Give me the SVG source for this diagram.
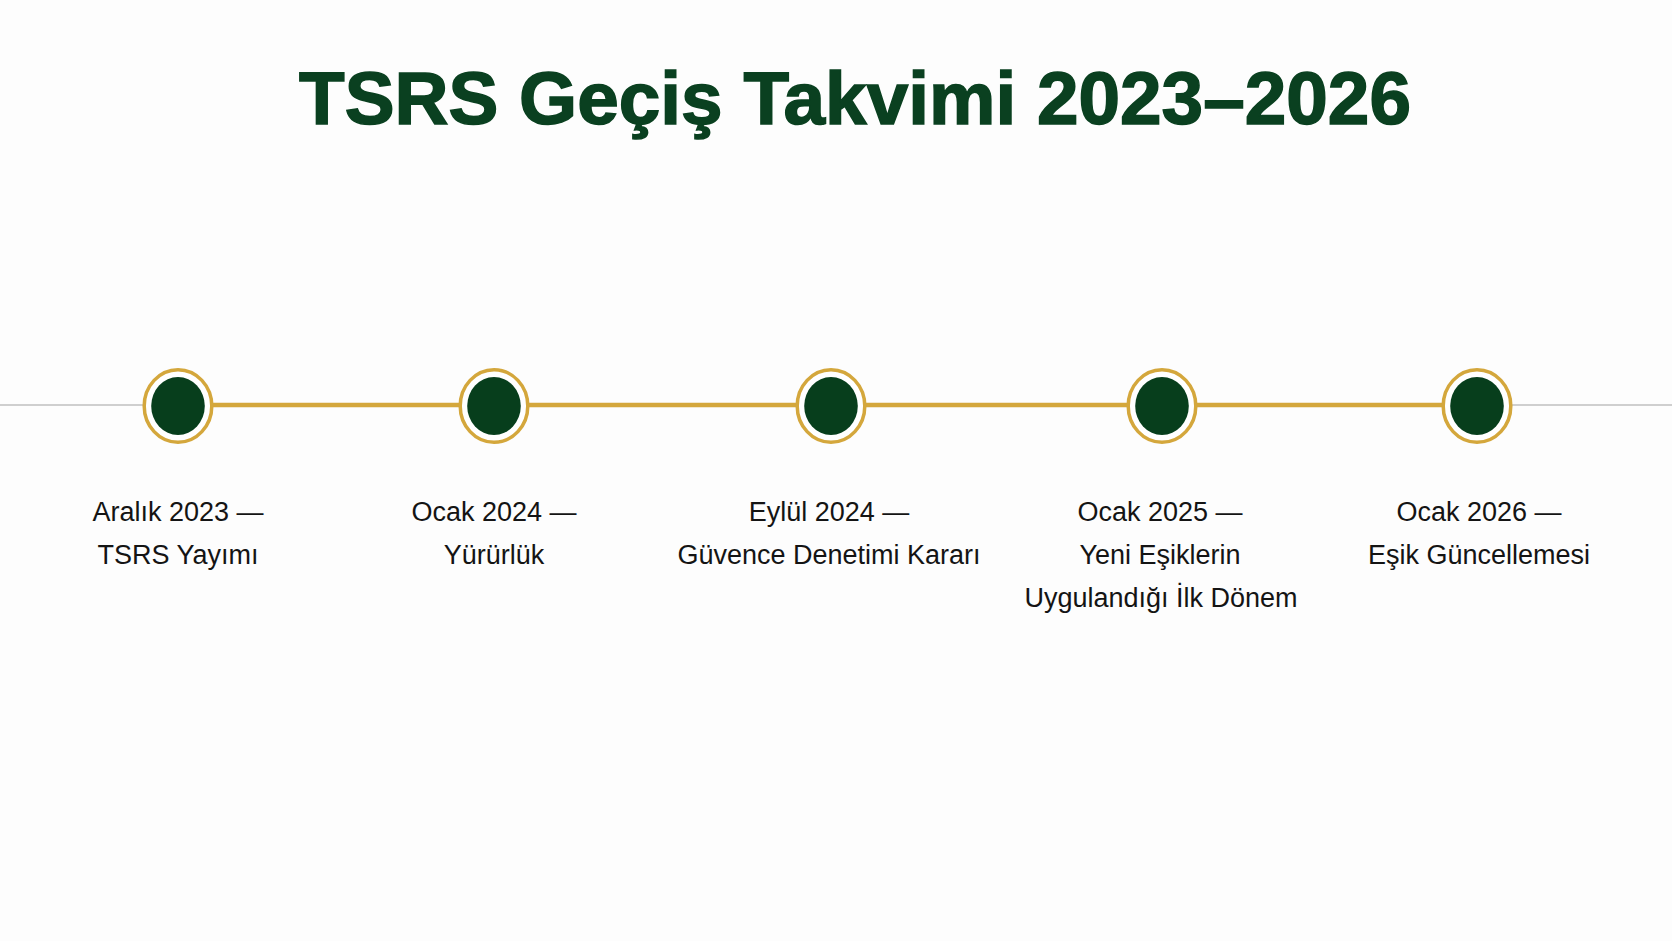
<svg xmlns="http://www.w3.org/2000/svg" width="1672" height="941" viewBox="0 0 1672 941">
<style>
.title{font-family:"Liberation Sans",Arial,sans-serif;font-weight:bold;font-size:74px;fill:#0a4020;stroke:#0a4020;stroke-width:1.5;}
.lbl{font-family:"Liberation Sans",Arial,sans-serif;font-size:27px;fill:#141414;text-anchor:middle;}
.ring{fill:#ffffff;stroke:#d4a73c;stroke-width:3.5;}
.dot{fill:#073e1c;}
</style>
<rect width="1672" height="941" fill="#fdfdfd"/>
<text class="title" x="855" y="124" text-anchor="middle" textLength="1112" lengthAdjust="spacingAndGlyphs">TSRS Geçiş Takvimi 2023–2026</text>
<g id="connectors">
<line x1="0" y1="405" x2="1672" y2="405" stroke="#cfcfcf" stroke-width="2"/>
<line x1="178" y1="405" x2="1477" y2="405" stroke="#d4a73c" stroke-width="4.5"/>
</g>
<g id="n1">
<ellipse class="ring" cx="178" cy="406" rx="33.8" ry="36.3"/>
<ellipse class="dot" cx="178" cy="406" rx="26.8" ry="29"/>
<text class="lbl" x="178" y="521">Aralık 2023 —</text>
<text class="lbl" x="178" y="564">TSRS Yayımı</text>
</g>
<g id="n2">
<ellipse class="ring" cx="494" cy="406" rx="33.8" ry="36.3"/>
<ellipse class="dot" cx="494" cy="406" rx="26.8" ry="29"/>
<text class="lbl" x="494" y="521">Ocak 2024 —</text>
<text class="lbl" x="494" y="564">Yürürlük</text>
</g>
<g id="n3">
<ellipse class="ring" cx="831" cy="406" rx="33.8" ry="36.3"/>
<ellipse class="dot" cx="831" cy="406" rx="26.8" ry="29"/>
<text class="lbl" x="829" y="521">Eylül 2024 —</text>
<text class="lbl" x="829" y="564">Güvence Denetimi Kararı</text>
</g>
<g id="n4">
<ellipse class="ring" cx="1162" cy="406" rx="33.8" ry="36.3"/>
<ellipse class="dot" cx="1162" cy="406" rx="26.8" ry="29"/>
<text class="lbl" x="1160" y="521">Ocak 2025 —</text>
<text class="lbl" x="1160" y="564">Yeni Eşiklerin</text>
<text class="lbl" x="1161" y="607">Uygulandığı İlk Dönem</text>
</g>
<g id="n5">
<ellipse class="ring" cx="1477" cy="406" rx="33.8" ry="36.3"/>
<ellipse class="dot" cx="1477" cy="406" rx="26.8" ry="29"/>
<text class="lbl" x="1479" y="521">Ocak 2026 —</text>
<text class="lbl" x="1479" y="564">Eşik Güncellemesi</text>
</g>
</svg>
